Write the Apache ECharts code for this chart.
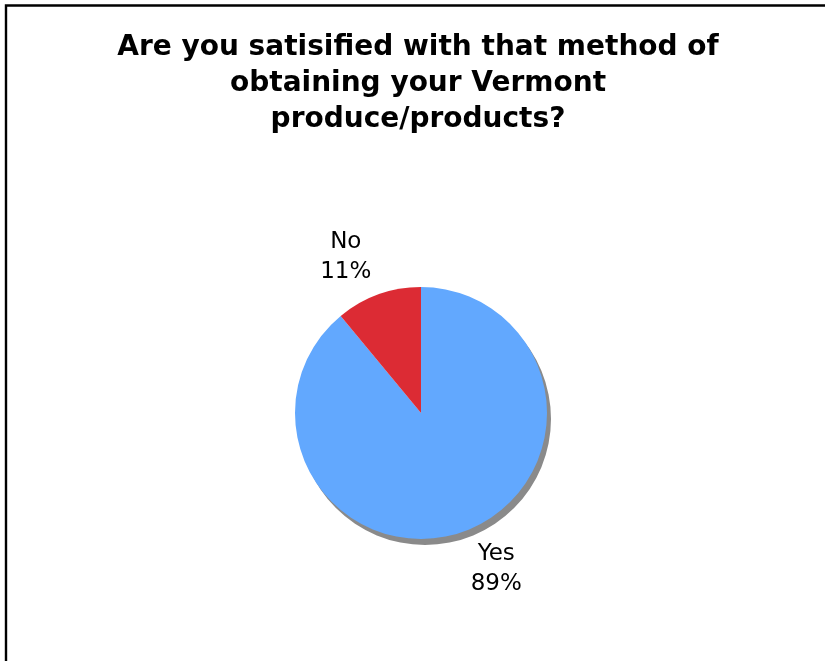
<!DOCTYPE html>
<html>
<head>
<meta charset="utf-8">
<style>
  html, body { margin: 0; padding: 0; background: #fff; }
  #chart { width: 825px; height: 661px; }
</style>
<script src="https://cdn.jsdelivr.net/npm/echarts@6/dist/echarts.min.js"></script>
</head>
<body>
<div id="chart"></div>
<script>
const titleText = 'Are you satisified with that method of\nobtaining your Vermont\nproduce/products?';
const categories = ['Yes', 'No'];
const values = [89, 11];
const colors = ['#62A8FE', '#DC2B34'];

const chart = echarts.init(document.getElementById('chart'), null, { renderer: 'canvas' });

const data = categories.map((c, i) => {
  const item = { name: c, value: values[i], itemStyle: { color: colors[i] } };
  if (i === 0) {
    item.itemStyle.shadowColor = '#8a8a8a';
    item.itemStyle.shadowOffsetX = 4;
    item.itemStyle.shadowOffsetY = 6;
    item.itemStyle.shadowBlur = 0;
  }
  return item;
});

chart.setOption({
  backgroundColor: '#ffffff',
  animation: false,
  graphic: [{
    type: 'rect',
    silent: true,
    shape: { x: 6, y: 5.5, width: 1000, height: 1000 },
    style: { fill: 'none', stroke: '#000', lineWidth: 2.4 }
  }, {
    type: 'text',
    silent: true,
    x: 418,
    y: 30,
    style: {
      text: titleText,
      align: 'center',
      verticalAlign: 'top',
      fontFamily: 'DejaVu Sans',
      fontWeight: 'bold',
      fontSize: 28,
      lineHeight: 36,
      fill: '#000'
    }
  }],
  series: [{
    type: 'pie',
    center: [421, 413],
    radius: 126,
    startAngle: 90,
    clockwise: true,
    avoidLabelOverlap: false,
    data: data,
    label: {
      show: true,
      position: 'outside',
      formatter: '{b}\n{d}%',
      fontFamily: 'DejaVu Sans',
      fontSize: 23,
      lineHeight: 30,
      color: '#000',
      distanceToLabelLine: 0
    },
    labelLine: { show: false, length: 40, length2: 19 },
    labelLayout: { align: 'center', verticalAlign: 'middle' },
    emphasis: { disabled: true }
  }]
});
</script>
</body>
</html>
